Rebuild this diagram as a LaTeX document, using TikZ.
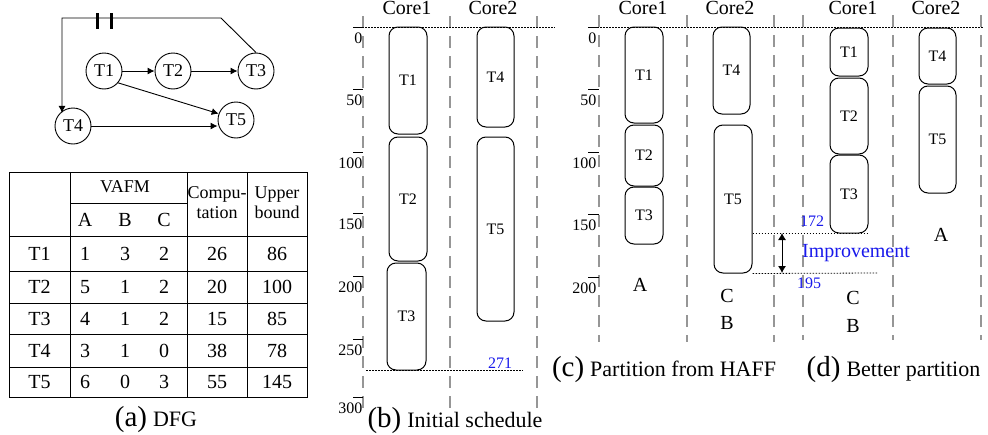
\documentclass[tikz,border=0pt]{standalone}
\usepackage{fontspec}
\setmainfont{Liberation Serif}
\usetikzlibrary{arrows.meta}
\definecolor{numblue}{RGB}{25,25,235}
\definecolor{gridgray}{RGB}{150,150,150}

\begin{document}
\begin{tikzpicture}[x=1pt,y=-1pt,
  every node/.style={inner sep=0pt},
  task/.style={draw, circle, line width=0.9pt, minimum size=36pt, font=\fontsize{18}{18}\selectfont},
  flow/.style={line width=0.9pt, -{Latex[length=7pt,width=7pt]}},
  delaybar/.style={line width=3pt},
  tabline/.style={line width=0.9pt},
  cell/.style={font=\fontsize{20}{20}\selectfont},
  headcell/.style={font=\fontsize{18}{20}\selectfont, align=center},
  blk/.style={draw, rounded corners=9pt, line width=1pt, font=\fontsize{16}{16}\selectfont},
  lane/.style={draw=gridgray, line width=1.1pt, dash pattern=on 12pt off 8pt},
  tickline/.style={line width=0.8pt},
  ticklab/.style={font=\fontsize{16}{16}\selectfont, anchor=north east},
  guide/.style={line width=0.8pt, dash pattern=on 1.5pt off 1.5pt},
  corelab/.style={font=\fontsize{20}{20}\selectfont, anchor=base},
  fulab/.style={font=\fontsize{20}{20}\selectfont},
  note/.style={text=numblue, font=\fontsize{16}{16}\selectfont},
  caplab/.style={anchor=base}
]
\useasboundingbox (0,0) rectangle (988,434);

% ---------------- (a) data flow graph ----------------
\node[task] (t1) at (104,71) {T1};
\node[task] (t2) at (173,71) {T2};
\node[task] (t3) at (256,71) {T3};
\node[task] (t4) at (73,126) {T4};
\node[task] (t5) at (236,120) {T5};
\draw[flow] (t1) -- (t2);
\draw[flow] (t2) -- (t3);
\draw[flow] (t1.-40) -- (t5.160);
\draw[flow] (t4.east) -- (t4.east -| t5.west);
\coordinate (fbA) at (221,18);
\coordinate (fbB) at (62,18);
\draw[flow] (t3.north) -- (fbA) -- (fbB) -- (fbB |- t4.north west);
% delay marks on the back edge
\draw[delaybar] (97,13) -- (97,29);
\draw[delaybar] (111,13) -- (111,29);

% ---------------- (a) table ----------------
\draw[tabline] (9,172) rectangle (307,397);
\foreach \x in {70,187,247} \draw[tabline] (\x,172) -- (\x,397);
\draw[tabline] (70,203) -- (187,203);
\foreach \y in {236,271,303,334,367} \draw[tabline] (9,\y) -- (307,\y);
\node[headcell] (hvafm) at (125,187) {VAFM};
\node[cell] (hA) at (85,219.5) {A};
\node[cell] (hB) at (125,219.5) {B};
\node[cell] (hC) at (164,219.5) {C};
\node[headcell] (hcomp) at (217,203) {Compu-\\tation};
\node[headcell] (hub) at (277,203) {Upper\\bound};
\foreach \r/\a/\b/\c/\cp/\ub/\y in {T1/1/3/2/26/86/253.5, T2/5/1/2/20/100/287, T3/4/1/2/15/85/318.5, T4/3/1/0/38/78/350.5, T5/6/0/3/55/145/382}{
  \node[cell] (row\r) at (39.5,\y) {\r};
  \node[cell] (va\r) at (85,\y) {\a};
  \node[cell] (vb\r) at (125,\y) {\b};
  \node[cell] (vc\r) at (164,\y) {\c};
  \node[cell] (cp\r) at (217,\y) {\cp};
  \node[cell] (ub\r) at (277,\y) {\ub};
}
\node[caplab] (capa) at (156,426) {{\fontsize{29}{29}\selectfont (a)}\hspace{6pt}{\fontsize{22}{22}\selectfont DFG}};

% ---------------- (b) initial schedule ----------------
\foreach \x in {363,450,537} \draw[lane] (\x,16) -- (\x,410);
\foreach \v/\y in {0/27,50/89,100/152,150/213,200/276,250/339,300/397}{
  \draw[tickline] (353,\y) -- (363,\y);
  \node[ticklab] (bt\v) at (362.5,\y+6) {\v};
}
\draw[guide] (353,27) -- (555,27);
\draw[guide] (366,370) -- (523,370);
\node[corelab] (bcore1) at (407,14) {Core1};
\node[corelab] (bcore2) at (493,14) {Core2};
\node[blk, minimum width=38pt, minimum height=107pt] (b1) at (408,80.5) {T1};
\node[blk, minimum width=38pt, minimum height=124pt] (b2) at (408,199) {T2};
\node[blk, minimum width=39pt, minimum height=107pt] (b3) at (406.5,316.5) {T3};
\node[blk, minimum width=37pt, minimum height=100pt] (b4) at (495.5,77) {T4};
\node[blk, minimum width=37pt, minimum height=184pt] (b5) at (495.5,229) {T5};
\node[note, anchor=south] (b271) at (500,369) {271};
\node[caplab] (capb) at (455,427) {{\fontsize{29}{29}\selectfont (b)}\hspace{6pt}{\fontsize{22}{22}\selectfont Initial schedule}};

% ---------------- (c) partition from HAFF ----------------
\foreach \x in {599,687,774} \draw[lane] (\x,15) -- (\x,342);
\foreach \v/\y in {0/27,50/89,100/152,150/214,200/277}{
  \draw[tickline] (588,\y) -- (599,\y);
  \node[ticklab] (ct\v) at (596.5,\y+6) {\v};
}
\draw[guide] (588,27) -- (983,27);
\node[corelab] (ccore1) at (643,14) {Core1};
\node[corelab] (ccore2) at (730,14) {Core2};
\node[blk, minimum width=38pt, minimum height=96pt] (c1) at (644,75) {T1};
\node[blk, minimum width=38pt, minimum height=61pt] (c2) at (644,155.5) {T2};
\node[blk, minimum width=38pt, minimum height=57pt] (c3) at (644,215.5) {T3};
\node[blk, minimum width=37pt, minimum height=87pt] (c4) at (731.5,70.5) {T4};
\node[blk, minimum width=38pt, minimum height=148pt] (c5) at (733,199) {T5};
\node[fulab] (cA) at (640,285) {A};
\node[fulab] (cC) at (727,296) {C};
\node[fulab] (cB) at (727,323) {B};
\node[caplab] (capc) at (664,376) {{\fontsize{29}{29}\selectfont (c)}\hspace{6pt}{\fontsize{22}{22}\selectfont Partition from HAFF}};

% ---------------- (d) better partition ----------------
\foreach \x in {803,893,981} \draw[lane] (\x,15) -- (\x,340);
\node[corelab] (dcore1) at (853,14) {Core1};
\node[corelab] (dcore2) at (936,14) {Core2};
\node[blk, minimum width=38pt, minimum height=48pt] (d1) at (849,52) {T1};
\node[blk, minimum width=38pt, minimum height=76pt] (d2) at (849,116) {T2};
\node[blk, minimum width=38pt, minimum height=78pt] (d3) at (849,194) {T3};
\node[blk, minimum width=37pt, minimum height=56pt] (d4) at (937.5,56) {T4};
\node[blk, minimum width=37pt, minimum height=107pt] (d5) at (937.5,139.5) {T5};
\node[fulab] (dA) at (941,235) {A};
\node[fulab] (dC) at (853,298) {C};
\node[fulab] (dB) at (853,326) {B};
\node[caplab] (capd) at (893.5,376) {{\fontsize{29}{29}\selectfont (d)}\hspace{6pt}{\fontsize{22}{22}\selectfont Better partition}};

% ---------------- improvement between (c) and (d) ----------------
\coordinate (imptop) at (782,233);
\coordinate (impbot) at (782,273);
\coordinate (impend) at (877,273);
\draw[guide] (imptop -| c5.east) -- (imptop -| d3.east);
\draw[guide] (c5.south east) -- (impend);
\draw[line width=0.9pt, {Latex[length=7pt,width=8pt]}-{Latex[length=7pt,width=8pt]}] (imptop) -- (impbot);
\node[note] (n172) at (812,221) {172};
\node[note] (n195) at (809,283) {195};
\node[note, font=\fontsize{20}{20}\selectfont] (nimp) at (856,253) {Improvement};
\end{tikzpicture}
\end{document}
